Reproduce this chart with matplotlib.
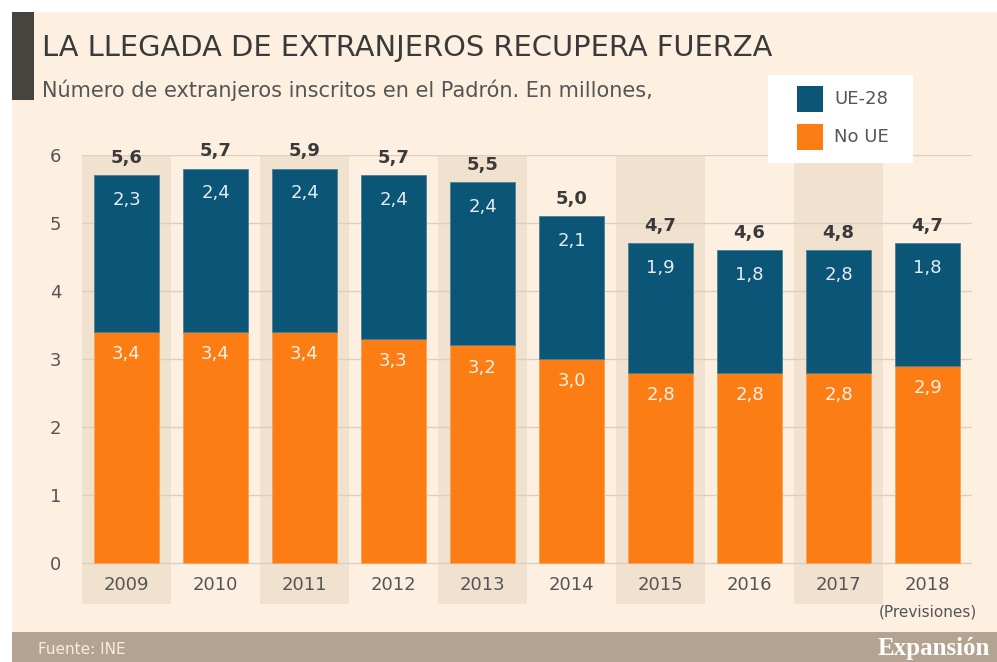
import numpy as np
import matplotlib.pyplot as plt
from matplotlib.patches import Rectangle

years = ['2009', '2010', '2011', '2012', '2013', '2014', '2015', '2016', '2017', '2018']
no_ue = [3.4, 3.4, 3.4, 3.3, 3.2, 3.0, 2.8, 2.8, 2.8, 2.9]
ue28 = [2.3, 2.4, 2.4, 2.4, 2.4, 2.1, 1.9, 1.8, 1.8, 1.8]
# labels as printed in the original graphic
ue28_labels = ['2,3', '2,4', '2,4', '2,4', '2,4', '2,1', '1,9', '1,8', '2,8', '1,8']
no_ue_labels = ['3,4', '3,4', '3,4', '3,3', '3,2', '3,0', '2,8', '2,8', '2,8', '2,9']
total_labels = ['5,6', '5,7', '5,9', '5,7', '5,5', '5,0', '4,7', '4,6', '4,8', '4,7']
yticks = [0, 1, 2, 3, 4, 5, 6]

BLUE = '#0b5576'
ORANGE = '#fb7d14'
CREAM = '#fdf0e1'
BAND = '#f1e1cf'
GREY = '#555555'

plt.rcParams['font.family'] = ['DejaVu Sans']

fig = plt.figure(figsize=(9.97, 6.62), dpi=100)
fig.patch.set_facecolor('white')
W, H = 997, 662

def fx(px):
    return px / W

def fy(py):
    return 1 - py / H

# cream panel, footer and dark title block
fig.patches.append(Rectangle((fx(12), fy(632)), fx(985), 620 / H, transform=fig.transFigure,
                             facecolor=CREAM, edgecolor='none', zorder=-2))
fig.patches.append(Rectangle((fx(12), 0), fx(985), 30 / H, transform=fig.transFigure,
                             facecolor='#b5a391', edgecolor='none', zorder=-2))
fig.patches.append(Rectangle((fx(12), fy(100)), fx(22), 88 / H, transform=fig.transFigure,
                             facecolor='#46443e', edgecolor='none', zorder=-1))

fig.text(fx(42), fy(48), 'LA LLEGADA DE EXTRANJEROS RECUPERA FUERZA', fontsize=20.8,
         color='#3a3a3a', va='center', ha='left')
fig.text(fx(42), fy(90), 'Número de extranjeros inscritos en el Padrón. En millones,', fontsize=15,
         color=GREY, va='center', ha='left')
fig.text(fx(38), fy(650), 'Fuente: INE', fontsize=11, color='#f4ede5', va='center', ha='left')
fig.text(fx(990), fy(648), 'Expansión', fontsize=18, color='white', va='center', ha='right',
         family='Liberation Serif', fontweight='bold')

ymin = -0.6
ax = fig.add_axes([fx(82), fy(563 - ymin * 68), 890 / W, (6 - ymin) * 68 / H])
ax.set_zorder(1)
ax.set_facecolor('none')
ax.set_xlim(-0.5, len(years) - 0.5)
ax.set_ylim(ymin, 6)

x = np.arange(len(years))
for i in x[::2]:
    ax.bar(i, 6 - ymin, bottom=ymin, width=1.0, color=BAND, zorder=0)
for t in yticks:
    ax.axhline(t, color='#ddcfbf', lw=1, zorder=1)

ax.bar(x, no_ue, width=0.73, color=ORANGE, edgecolor='#f6a25a', linewidth=0.6, zorder=2)
ax.bar(x, ue28, bottom=no_ue, width=0.73, color=BLUE, edgecolor='#4c7f99', linewidth=0.6, zorder=2)

for i in x:
    top = no_ue[i] + ue28[i]
    ax.text(i, no_ue[i] - 0.33, no_ue_labels[i], ha='center', va='center', fontsize=13,
            color='#fff3e8', zorder=3)
    ax.text(i, top - 0.36, ue28_labels[i], ha='center', va='center', fontsize=13,
            color='#e6eef3', zorder=3)
    ax.text(i, top + 0.26, total_labels[i], ha='center', va='center', fontsize=13,
            fontweight='bold', color='#3a3a3a', zorder=3, clip_on=False)
    ax.text(i, -0.32, years[i], ha='center', va='center', fontsize=13, color=GREY, zorder=3)
ax.text(x[-1], -(612 - 563) / 68, '(Previsiones)', ha='center', va='center', fontsize=11,
        color=GREY, clip_on=False)

ax.set_xticks([])
ax.set_yticks(yticks)
ax.set_yticklabels([str(t) for t in yticks], fontsize=13, color=GREY)
ax.tick_params(axis='y', length=0, pad=15)
for s in ax.spines.values():
    s.set_visible(False)

# legend box
fig.patches.append(Rectangle((fx(768), fy(163)), 145 / W, 88 / H, transform=fig.transFigure,
                             facecolor='white', edgecolor='none', zorder=5))
fig.patches.append(Rectangle((fx(797), fy(112)), 26 / W, 26 / H, transform=fig.transFigure,
                             facecolor=BLUE, edgecolor='none', zorder=6))
fig.patches.append(Rectangle((fx(797), fy(150)), 26 / W, 26 / H, transform=fig.transFigure,
                             facecolor=ORANGE, edgecolor='none', zorder=6))
fig.text(fx(834), fy(99), 'UE-28', fontsize=13, color=GREY, va='center', ha='left', zorder=7)
fig.text(fx(834), fy(137), 'No UE', fontsize=13, color=GREY, va='center', ha='left', zorder=7)

fig.savefig('out.png', dpi=100, facecolor=fig.get_facecolor())
